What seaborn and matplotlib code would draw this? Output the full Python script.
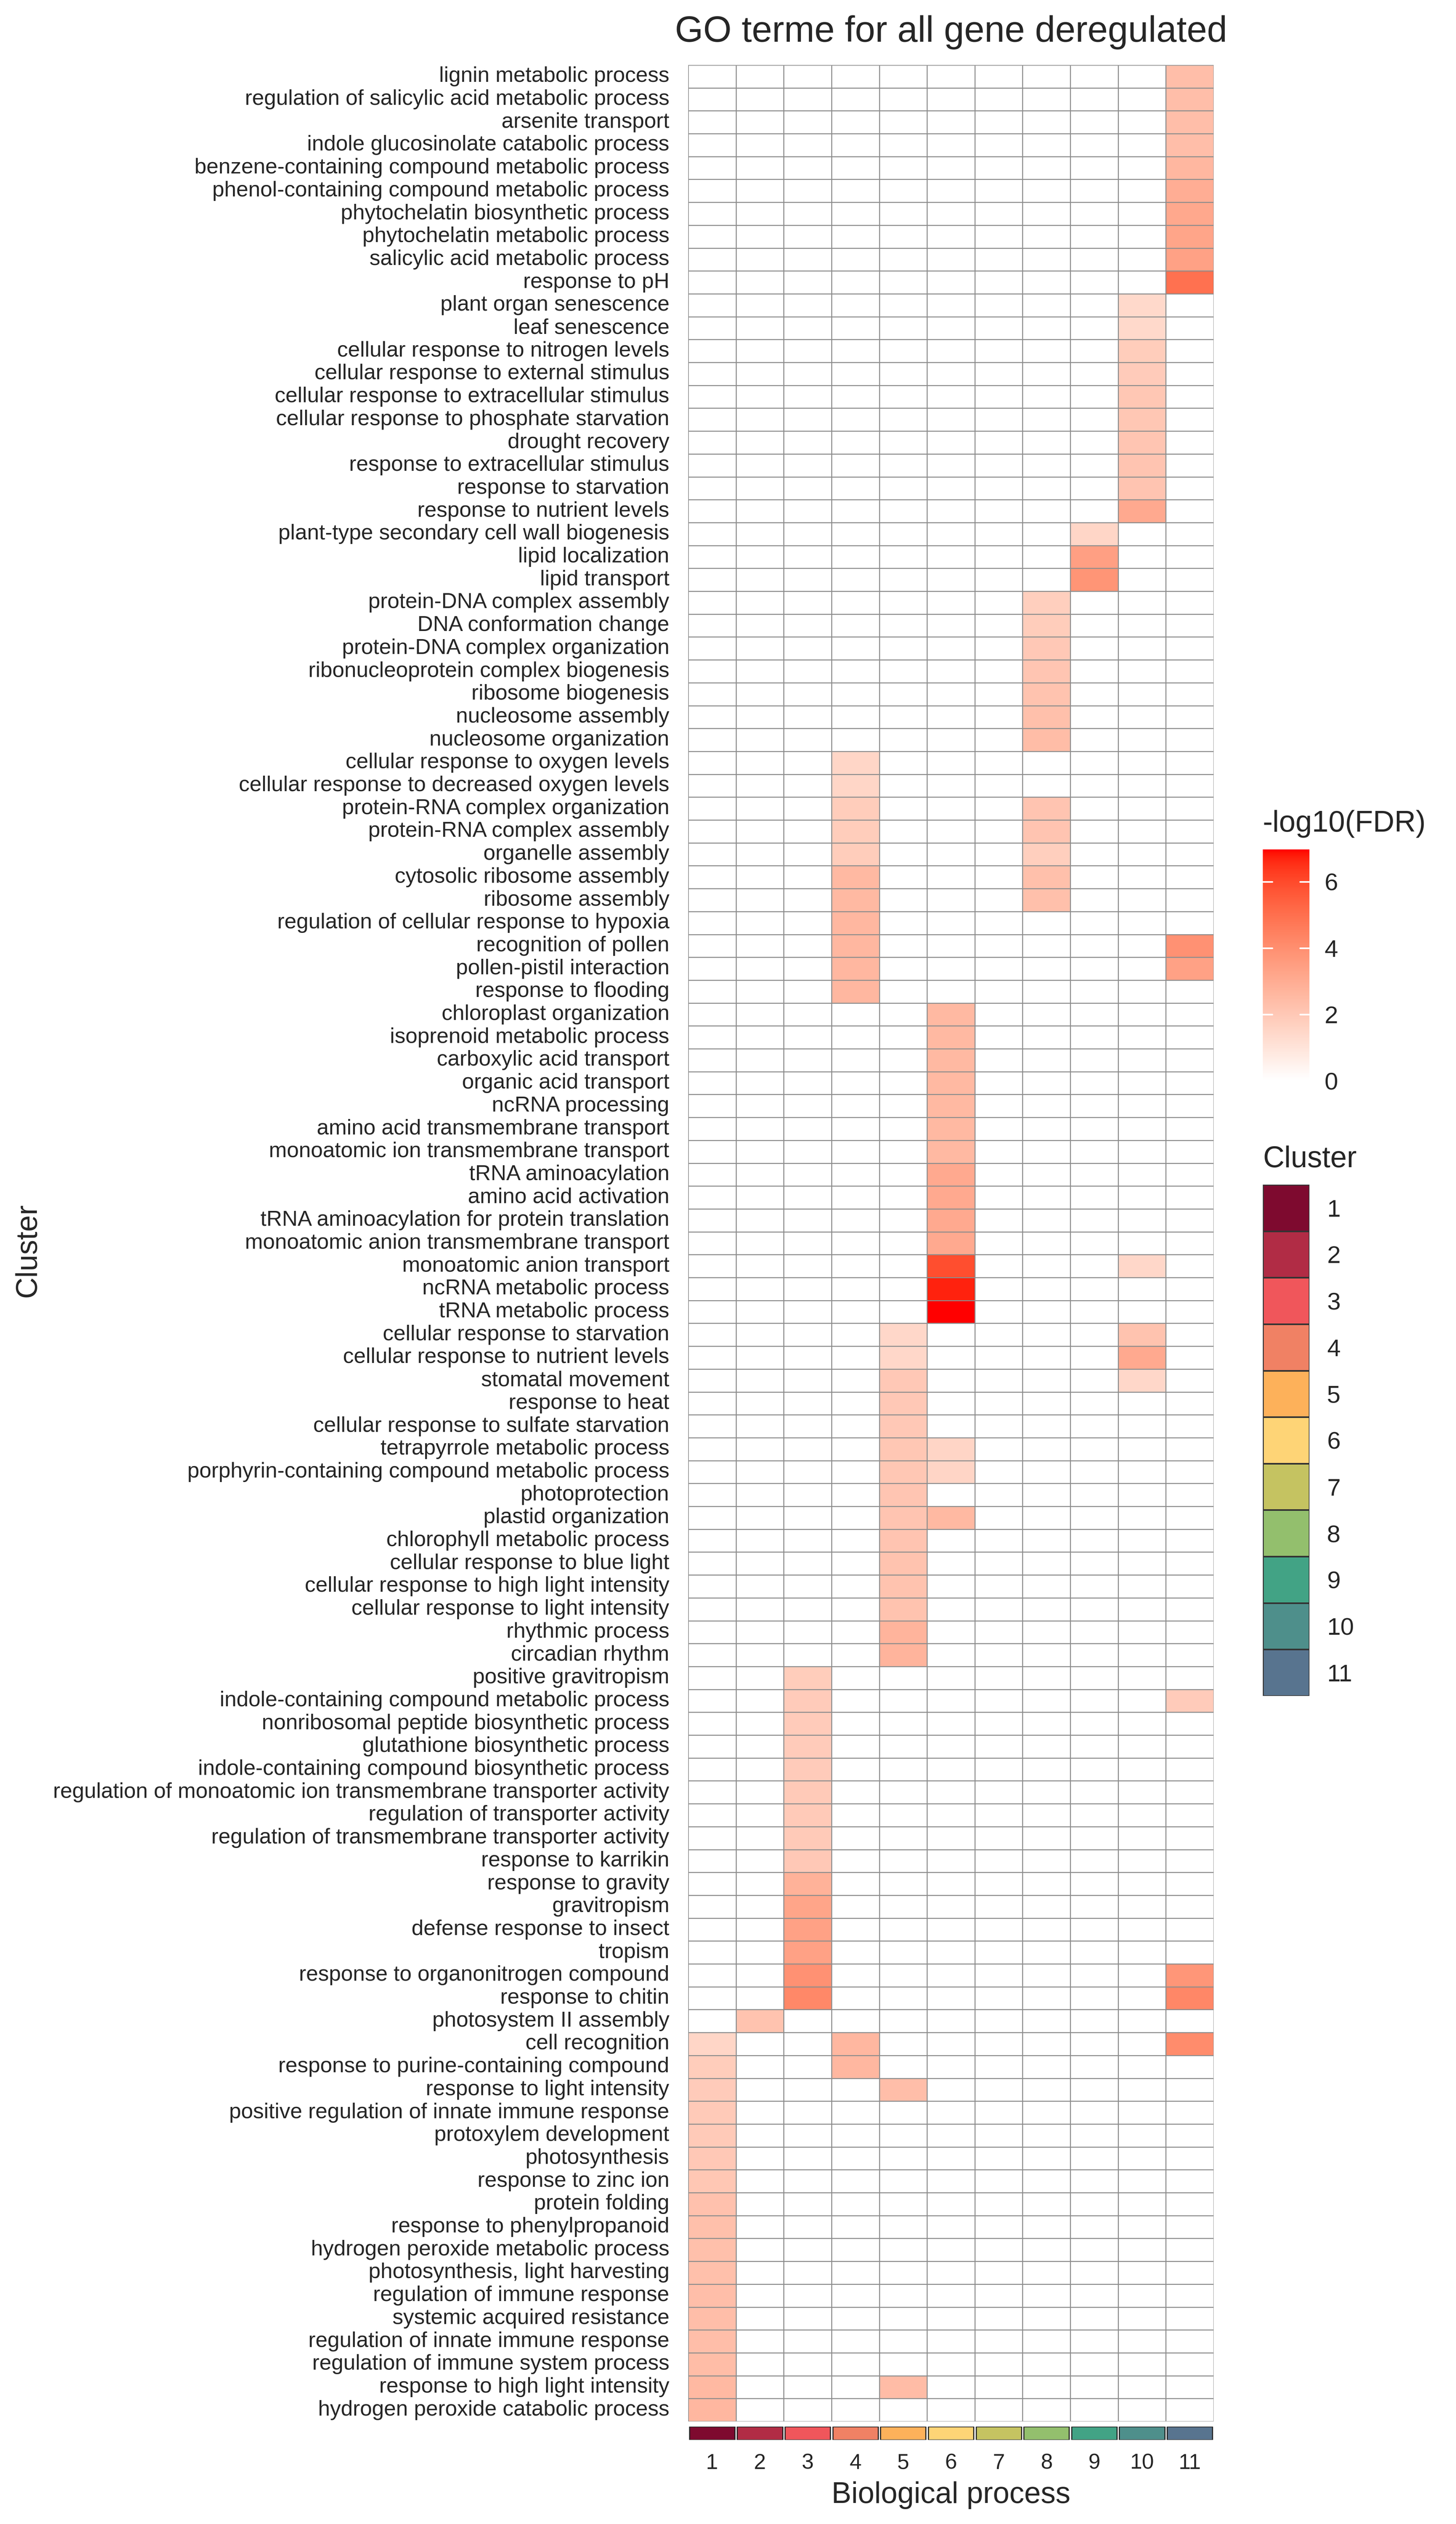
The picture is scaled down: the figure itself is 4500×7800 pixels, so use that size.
import numpy as np
import pandas as pd
import matplotlib
matplotlib.use("Agg")
import matplotlib.pyplot as plt
import seaborn as sns
from matplotlib.colors import ListedColormap

# GO terms, top to bottom
terms = [
    "lignin metabolic process", "regulation of salicylic acid metabolic process",
    "arsenite transport", "indole glucosinolate catabolic process",
    "benzene-containing compound metabolic process", "phenol-containing compound metabolic process",
    "phytochelatin biosynthetic process", "phytochelatin metabolic process",
    "salicylic acid metabolic process", "response to pH",
    "plant organ senescence", "leaf senescence", "cellular response to nitrogen levels",
    "cellular response to external stimulus", "cellular response to extracellular stimulus",
    "cellular response to phosphate starvation", "drought recovery",
    "response to extracellular stimulus", "response to starvation", "response to nutrient levels",
    "plant-type secondary cell wall biogenesis", "lipid localization", "lipid transport",
    "protein-DNA complex assembly", "DNA conformation change", "protein-DNA complex organization",
    "ribonucleoprotein complex biogenesis", "ribosome biogenesis", "nucleosome assembly",
    "nucleosome organization", "cellular response to oxygen levels",
    "cellular response to decreased oxygen levels", "protein-RNA complex organization",
    "protein-RNA complex assembly", "organelle assembly", "cytosolic ribosome assembly",
    "ribosome assembly", "regulation of cellular response to hypoxia", "recognition of pollen",
    "pollen-pistil interaction", "response to flooding", "chloroplast organization",
    "isoprenoid metabolic process", "carboxylic acid transport", "organic acid transport",
    "ncRNA processing", "amino acid transmembrane transport",
    "monoatomic ion transmembrane transport", "tRNA aminoacylation", "amino acid activation",
    "tRNA aminoacylation for protein translation", "monoatomic anion transmembrane transport",
    "monoatomic anion transport", "ncRNA metabolic process", "tRNA metabolic process",
    "cellular response to starvation", "cellular response to nutrient levels",
    "stomatal movement", "response to heat", "cellular response to sulfate starvation",
    "tetrapyrrole metabolic process", "porphyrin-containing compound metabolic process",
    "photoprotection", "plastid organization", "chlorophyll metabolic process",
    "cellular response to blue light", "cellular response to high light intensity",
    "cellular response to light intensity", "rhythmic process", "circadian rhythm",
    "positive gravitropism", "indole-containing compound metabolic process",
    "nonribosomal peptide biosynthetic process", "glutathione biosynthetic process",
    "indole-containing compound biosynthetic process",
    "regulation of monoatomic ion transmembrane transporter activity",
    "regulation of transporter activity", "regulation of transmembrane transporter activity",
    "response to karrikin", "response to gravity", "gravitropism", "defense response to insect",
    "tropism", "response to organonitrogen compound", "response to chitin",
    "photosystem II assembly", "cell recognition", "response to purine-containing compound",
    "response to light intensity", "positive regulation of innate immune response",
    "protoxylem development", "photosynthesis", "response to zinc ion", "protein folding",
    "response to phenylpropanoid", "hydrogen peroxide metabolic process",
    "photosynthesis, light harvesting", "regulation of immune response",
    "systemic acquired resistance", "regulation of innate immune response",
    "regulation of immune system process", "response to high light intensity",
    "hydrogen peroxide catabolic process",
]

# -log10(FDR) per cluster (terms not listed are 0)
cluster1 = {
    "cell recognition": 1.5, "response to purine-containing compound": 1.85,
    "response to light intensity": 1.9, "positive regulation of innate immune response": 1.95,
    "protoxylem development": 1.95, "photosynthesis": 2.0, "response to zinc ion": 2.05,
    "protein folding": 2.25, "response to phenylpropanoid": 2.3,
    "hydrogen peroxide metabolic process": 2.3, "photosynthesis, light harvesting": 2.3,
    "regulation of immune response": 2.35, "systemic acquired resistance": 2.35,
    "regulation of innate immune response": 2.35, "regulation of immune system process": 2.4,
    "response to high light intensity": 2.55, "hydrogen peroxide catabolic process": 2.6,
}
cluster2 = {"photosystem II assembly": 2.2}
cluster3 = {
    "positive gravitropism": 1.85, "indole-containing compound metabolic process": 1.9,
    "nonribosomal peptide biosynthetic process": 1.9, "glutathione biosynthetic process": 1.9,
    "indole-containing compound biosynthetic process": 1.9,
    "regulation of monoatomic ion transmembrane transporter activity": 1.95,
    "regulation of transporter activity": 1.95,
    "regulation of transmembrane transporter activity": 1.95, "response to karrikin": 2.0,
    "response to gravity": 2.8, "gravitropism": 3.25, "defense response to insect": 3.35,
    "tropism": 3.35, "response to organonitrogen compound": 3.9, "response to chitin": 4.2,
}
cluster4 = {
    "cellular response to oxygen levels": 1.5, "cellular response to decreased oxygen levels": 1.5,
    "protein-RNA complex organization": 1.85, "protein-RNA complex assembly": 1.85,
    "organelle assembly": 1.85, "cytosolic ribosome assembly": 2.55, "ribosome assembly": 2.55,
    "regulation of cellular response to hypoxia": 2.6, "recognition of pollen": 2.6,
    "pollen-pistil interaction": 2.6, "response to flooding": 2.6, "cell recognition": 2.6,
    "response to purine-containing compound": 2.6,
}
cluster5 = {
    "cellular response to starvation": 1.45, "cellular response to nutrient levels": 1.45,
    "stomatal movement": 2.0, "response to heat": 2.0,
    "cellular response to sulfate starvation": 2.0, "tetrapyrrole metabolic process": 2.05,
    "porphyrin-containing compound metabolic process": 2.05, "photoprotection": 2.1,
    "plastid organization": 2.15, "chlorophyll metabolic process": 2.15,
    "cellular response to blue light": 2.2, "cellular response to high light intensity": 2.2,
    "cellular response to light intensity": 2.2, "rhythmic process": 2.7,
    "circadian rhythm": 2.7, "response to light intensity": 2.35,
    "response to high light intensity": 2.45,
}
cluster6 = {
    "chloroplast organization": 2.55, "isoprenoid metabolic process": 2.55,
    "carboxylic acid transport": 2.55, "organic acid transport": 2.55, "ncRNA processing": 2.55,
    "amino acid transmembrane transport": 2.55, "monoatomic ion transmembrane transport": 2.55,
    "tRNA aminoacylation": 3.1, "amino acid activation": 3.1,
    "tRNA aminoacylation for protein translation": 3.1,
    "monoatomic anion transmembrane transport": 3.1, "monoatomic anion transport": 5.9,
    "ncRNA metabolic process": 6.7, "tRNA metabolic process": 6.97,
    "tetrapyrrole metabolic process": 1.55,
    "porphyrin-containing compound metabolic process": 1.55, "plastid organization": 2.55,
}
cluster7 = {}
cluster8 = {
    "protein-DNA complex assembly": 1.75, "DNA conformation change": 1.85,
    "protein-DNA complex organization": 2.0, "ribonucleoprotein complex biogenesis": 2.1,
    "ribosome biogenesis": 2.2, "nucleosome assembly": 2.3, "nucleosome organization": 2.4,
    "protein-RNA complex organization": 2.15, "protein-RNA complex assembly": 2.15,
    "organelle assembly": 1.75, "cytosolic ribosome assembly": 2.3, "ribosome assembly": 2.3,
}
cluster9 = {
    "plant-type secondary cell wall biogenesis": 1.5, "lipid localization": 3.45,
    "lipid transport": 3.8,
}
cluster10 = {
    "plant organ senescence": 1.4, "leaf senescence": 1.4,
    "cellular response to nitrogen levels": 1.85, "cellular response to external stimulus": 1.9,
    "cellular response to extracellular stimulus": 2.05,
    "cellular response to phosphate starvation": 2.05, "drought recovery": 2.1,
    "response to extracellular stimulus": 2.15, "response to starvation": 2.15,
    "response to nutrient levels": 3.1, "monoatomic anion transport": 1.45,
    "cellular response to starvation": 2.2, "cellular response to nutrient levels": 3.1,
    "stomatal movement": 1.45,
}
cluster11 = {
    "lignin metabolic process": 2.35, "regulation of salicylic acid metabolic process": 2.35,
    "arsenite transport": 2.35, "indole glucosinolate catabolic process": 2.35,
    "benzene-containing compound metabolic process": 2.6,
    "phenol-containing compound metabolic process": 2.95,
    "phytochelatin biosynthetic process": 3.15, "phytochelatin metabolic process": 3.25,
    "salicylic acid metabolic process": 3.35, "response to pH": 4.95,
    "recognition of pollen": 3.9, "pollen-pistil interaction": 3.4,
    "indole-containing compound metabolic process": 1.9,
    "response to organonitrogen compound": 3.75, "response to chitin": 4.25,
    "cell recognition": 4.1,
}

cluster_labels = [str(i) for i in range(1, 12)]
cluster_colors = ["#7E0A2F", "#B12C45", "#F0565B", "#F08164", "#FDB15A", "#FED476",
                  "#C5C361", "#93BF6D", "#42A385", "#4E8F8B", "#58748F"]

clusters = [cluster1, cluster2, cluster3, cluster4, cluster5, cluster6,
            cluster7, cluster8, cluster9, cluster10, cluster11]

# Build the matrix
df = pd.DataFrame(0.0, index=terms, columns=cluster_labels)
for lab, d in zip(cluster_labels, clusters):
    for term, val in d.items():
        df.loc[term, lab] = val

# white -> red gradient interpolated in CIELAB (like ggplot's scale_fill_gradient)
M = np.array([[0.4124, 0.3576, 0.1805], [0.2126, 0.7152, 0.0722], [0.0193, 0.1192, 0.9505]])
WP = np.array([0.95047, 1.0, 1.08883])


def srgb_to_lab(c):
    c = np.asarray(c, float)
    lin = np.where(c <= 0.04045, c / 12.92, ((c + 0.055) / 1.055) ** 2.4)
    xyz = M @ lin / WP
    f = np.where(xyz > 0.008856, np.cbrt(xyz), 7.787 * xyz + 16 / 116)
    return np.array([116 * f[1] - 16, 500 * (f[0] - f[1]), 200 * (f[1] - f[2])])


def lab_to_srgb(lab):
    L, a, b = lab
    fy = (L + 16) / 116
    f = np.array([fy + a / 500, fy, fy - b / 200])
    xyz = np.where(f ** 3 > 0.008856, f ** 3, (f - 16 / 116) / 7.787) * WP
    lin = np.clip(np.linalg.inv(M) @ xyz, 0, 1)
    return np.where(lin <= 0.0031308, 12.92 * lin, 1.055 * lin ** (1 / 2.4) - 0.055)


lab_lo = srgb_to_lab([1, 1, 1])
lab_hi = srgb_to_lab([1, 0, 0])
ramp = [lab_to_srgb(lab_lo + t * (lab_hi - lab_lo)) for t in np.linspace(0, 1, 256)]
fdr_cmap = ListedColormap(np.clip(ramp, 0, 1))

sns.set_style("white")
plt.rcParams["font.family"] = ["Liberation Sans", "DejaVu Sans"]

W, H = 4500, 7800
fig = plt.figure(figsize=(15, 26), dpi=300)

ax = fig.add_axes([2127 / W, 1 - 7483 / H, 1624 / W, (7483 - 201) / H])
cax = fig.add_axes([3903 / W, 1 - 3340 / H, 144 / W, 715 / H])
strip_ax = fig.add_axes([2127 / W, 1 - 7540 / H, 1624 / W, 41 / H])
lax = fig.add_axes([3903 / W, 1 - 5241 / H, 144 / W, 1580 / H])

vmax = df.values.max()
sns.heatmap(df, ax=ax, cmap=fdr_cmap, vmin=0, vmax=vmax, linewidths=0.3,
            linecolor="#8c8c8c", cbar_ax=cax, cbar_kws={"ticks": [0, 2, 4, 6]},
            xticklabels=False, yticklabels=True)
ax.set_xlabel("")
ax.set_ylabel("")
ax.tick_params(axis="y", length=0, pad=14, labelsize=16, rotation=0)

# colour bar styled like ggplot
cbar = ax.collections[0].colorbar
cbar.outline.set_visible(False)
cax.tick_params(length=0, labelsize=18, pad=11)
for v in [0, 2, 4, 6]:
    cax.axhline(v, xmin=0, xmax=0.2, color="white", lw=1.2)
    cax.axhline(v, xmin=0.8, xmax=1, color="white", lw=1.2)

# cluster colour strip under the columns
strip_ax.bar(range(len(cluster_labels)), 1, width=0.95, color=cluster_colors,
             edgecolor="#222222", linewidth=0.8)
strip_ax.set_xlim(-0.5, len(cluster_labels) - 0.5)
strip_ax.set_ylim(0, 1)
strip_ax.set_yticks([])
strip_ax.set_xticks(range(len(cluster_labels)))
strip_ax.set_xticklabels(cluster_labels)
strip_ax.tick_params(axis="x", length=0, pad=10, labelsize=16)
for s in strip_ax.spines.values():
    s.set_visible(False)

# cluster legend
key = pd.DataFrame({"k": np.arange(len(cluster_labels))}, index=cluster_labels)
sns.heatmap(key, ax=lax, cmap=ListedColormap(cluster_colors), cbar=False,
            linewidths=0.8, linecolor="#333333", xticklabels=False, yticklabels=True)
lax.set_ylabel("")
lax.yaxis.tick_right()
lax.tick_params(axis="y", length=0, pad=13, labelsize=18, rotation=0)

# titles
fig.text(2939 / W, 1 - 129 / H, "GO terme for all gene deregulated", ha="center",
         va="baseline", fontsize=27)
fig.text(2939 / W, 1 - 7735 / H, "Biological process", ha="center", va="baseline",
         fontsize=22)
fig.text(86 / W, 1 - 3864 / H, "Cluster", rotation=90, ha="center", va="center",
         fontsize=22)
fig.text(3903 / W, 1 - 2570 / H, "-log10(FDR)", va="baseline", fontsize=22)
fig.text(3903 / W, 1 - 3607 / H, "Cluster", va="baseline", fontsize=22)

fig.savefig("out.png", dpi=300)
